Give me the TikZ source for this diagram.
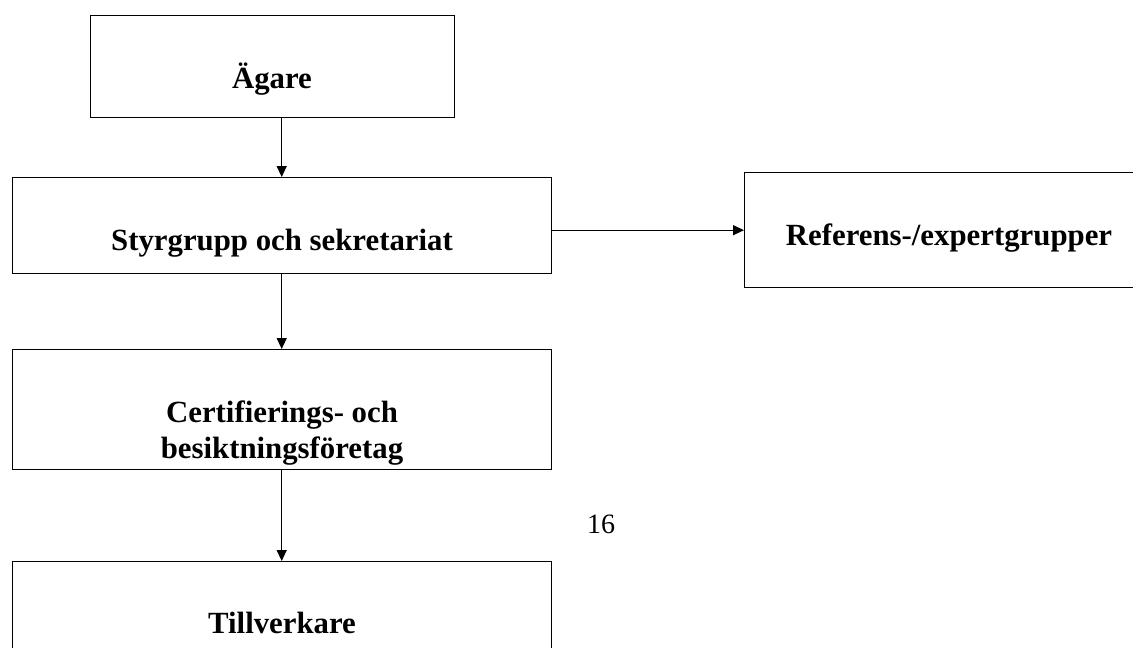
\documentclass[tikz,border=0pt]{standalone}
\usepackage{fontspec}
\setmainfont{Liberation Serif}
\usetikzlibrary{arrows.meta}
\begin{document}
\begin{tikzpicture}[x=1pt,y=-1pt,
  box/.style={draw=black,line width=1.4pt,rectangle,inner sep=0pt,anchor=north west},
  lbl/.style={font=\bfseries\fontsize{30.8}{37}\selectfont,anchor=base,inner sep=0pt,align=center},
  conn/.style={line width=1.3pt,-{Triangle[length=11pt,width=10pt]}}]
\clip (0,0) rectangle (1133,648);
\fill[white] (0,0) rectangle (1133,648);
% boxes
\node[box,minimum width=364pt,minimum height=102pt] (ag) at (90,15) {};
\node[box,minimum width=539pt,minimum height=96pt] (sty) at (11.5,177) {};
\node[box,minimum width=420pt,minimum height=115pt] (ref) at (744,172) {};
\node[box,minimum width=539pt,minimum height=120pt] (cert) at (11.5,349) {};
\node[box,minimum width=539pt,minimum height=130pt] (till) at (11.5,561) {};
% labels
\node[lbl] (tag) at (272,88) {Ägare};
\node[lbl] (tsty) at (282,250) {Styrgrupp och sekretariat};
\node[lbl] (tref) at (949,245) {Referens-/expertgrupper};
\node[lbl] (tcert1) at (282,422) {Certifierings- och};
\node[lbl] (tcert2) at (282,458) {besiktningsföretag};
\node[lbl] (ttill) at (282,633) {Tillverkare};
\node[font=\fontsize{28}{34}\selectfont,anchor=base west,inner sep=0pt] (pg) at (587,533) {16};
% connectors
\draw[conn] (ag.south -| sty.north) -- (sty.north);
\draw[conn] (sty.south) -- (cert.north);
\draw[conn] (cert.south) -- (till.north);
\draw[conn] (sty.east |- ref.west) -- (ref.west);
\end{tikzpicture}
\end{document}
